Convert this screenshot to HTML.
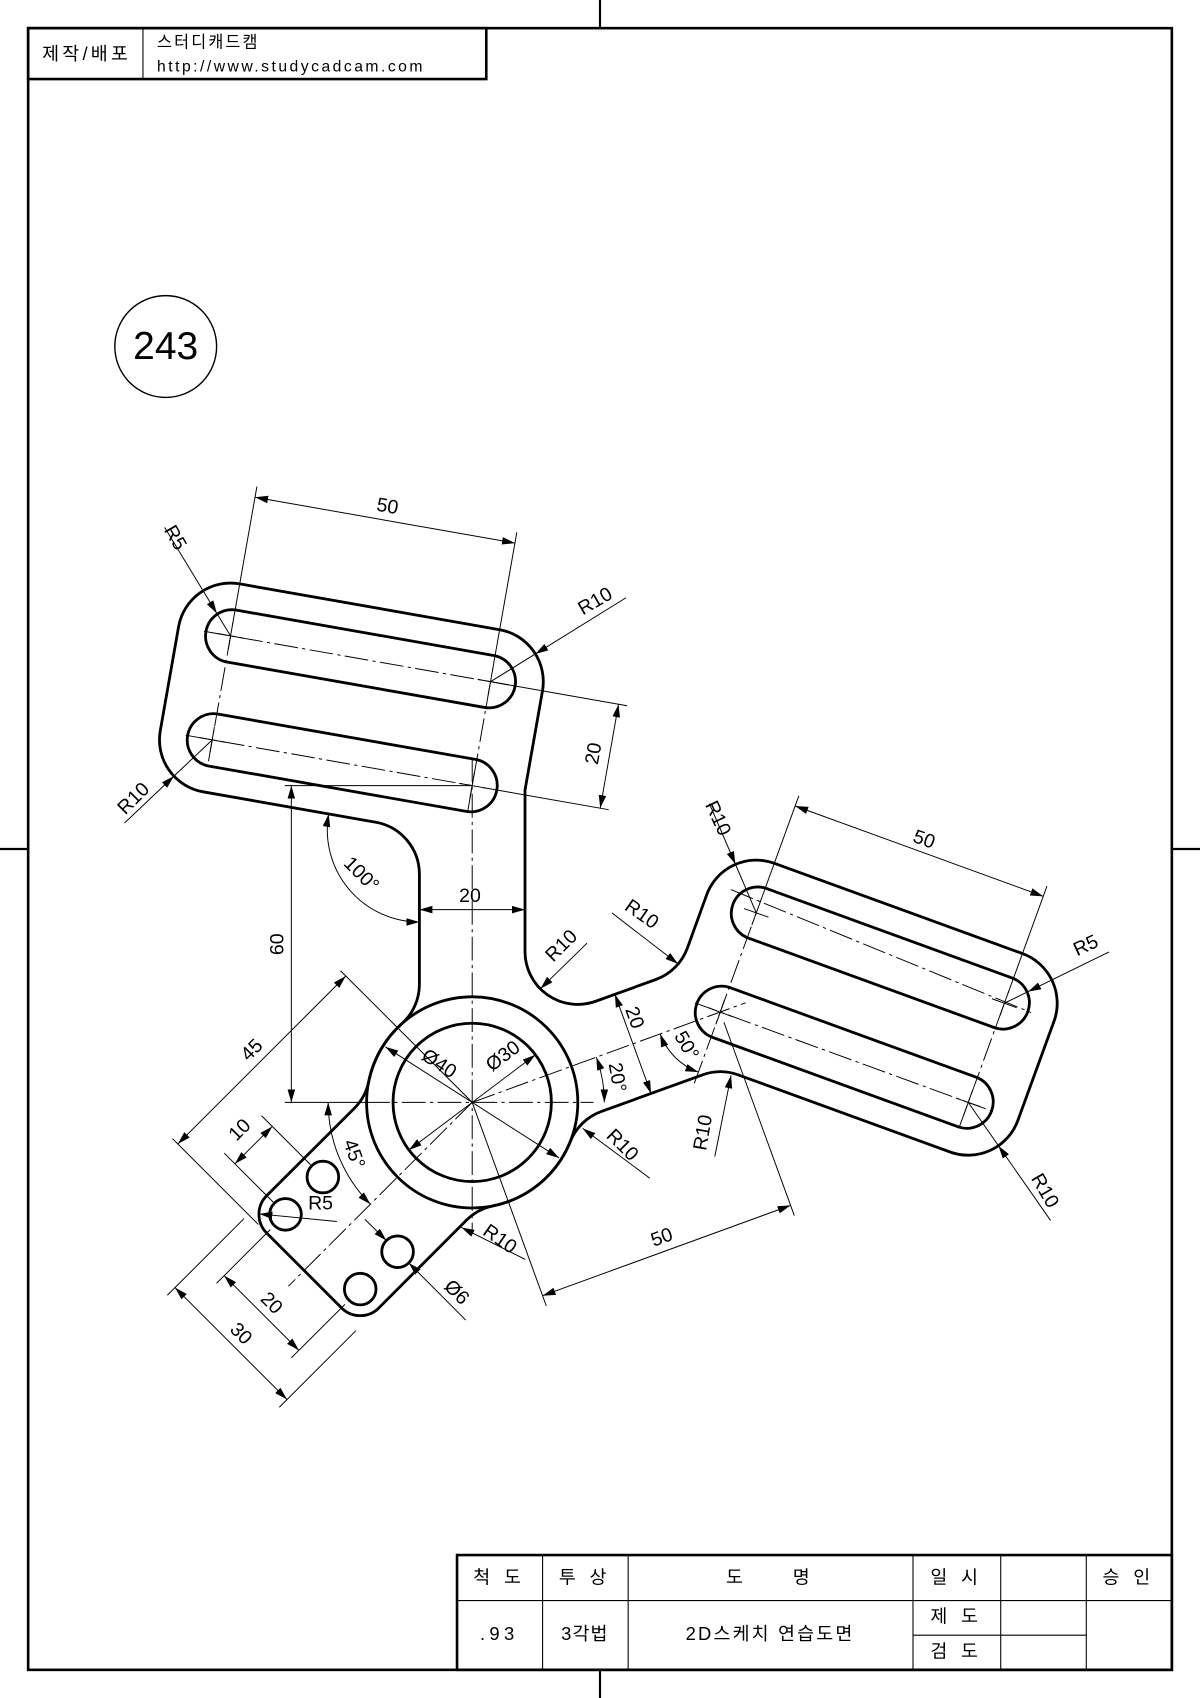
<!DOCTYPE html>
<html><head><meta charset="utf-8">
<style>
html,body{margin:0;padding:0;background:#fff;}
svg{display:block;}
.o{fill:none;stroke:#000;stroke-width:2.6;stroke-linejoin:round;}
.t{fill:none;stroke:#000;stroke-width:0.9;}
.c{fill:none;stroke:#000;stroke-width:0.9;stroke-dasharray:22 4 3 4;}
.d{fill:none;stroke:#000;stroke-width:0.9;marker-start:url(#a);marker-end:url(#a);}
.l{fill:none;stroke:#000;stroke-width:0.9;marker-end:url(#a);}
text{font-family:"Liberation Sans","Noto Sans CJK KR",sans-serif;fill:#000;}
.dt{font-size:18px;text-anchor:middle;dominant-baseline:middle;}
.tb{font-size:17px;text-anchor:middle;dominant-baseline:middle;letter-spacing:4px;}
</style></head><body>
<svg width="1200" height="1698" viewBox="0 0 1108 1568" preserveAspectRatio="none" xmlns="http://www.w3.org/2000/svg">
<defs>
<marker id="a" viewBox="0 0 12 7" refX="12" refY="3.5" markerWidth="12" markerHeight="7" markerUnits="userSpaceOnUse" orient="auto-start-reverse">
<path d="M0,0 L12,3.5 L0,7 z" fill="#000"/></marker>
</defs>
<rect width="1108" height="1568" fill="#fff"/>
<rect x="26" y="26" width="1056" height="1516" fill="none" stroke="#000" stroke-width="2.4"/>
<line x1="554" y1="0" x2="554" y2="26" stroke="#000" stroke-width="2"/>
<line x1="554" y1="1542" x2="554" y2="1568" stroke="#000" stroke-width="2"/>
<line x1="0" y1="784" x2="26" y2="784" stroke="#000" stroke-width="2"/>
<line x1="1082" y1="784" x2="1108" y2="784" stroke="#000" stroke-width="2"/>
<rect x="26" y="26" width="423" height="47" fill="none" stroke="#000" stroke-width="2.4"/>
<line x1="132" y1="26" x2="132" y2="73" stroke="#000" stroke-width="1"/>
<text x="80" y="51" style="font-size:17px;text-anchor:middle;dominant-baseline:middle;letter-spacing:3px">제작/배포</text>
<text x="145" y="40" style="font-size:15px;dominant-baseline:middle;letter-spacing:2px">스터디캐드캠</text>
<text x="145" y="62" style="font-size:14.5px;dominant-baseline:middle;letter-spacing:2.3px">http://www.studycadcam.com</text>
<circle cx="153" cy="320" r="47" fill="none" stroke="#000" stroke-width="1.3"/>
<text x="153" y="322" style="font-size:36px;text-anchor:middle;dominant-baseline:middle">243</text>
<g stroke="#000" stroke-width="1" fill="none">
<rect x="422" y="1436" width="660" height="106" stroke-width="2.4"/>
<line x1="422" y1="1478" x2="1082" y2="1478"/>
<line x1="843" y1="1510" x2="1003" y2="1510"/>
<line x1="501" y1="1436" x2="501" y2="1542"/>
<line x1="580" y1="1436" x2="580" y2="1542"/>
<line x1="843" y1="1436" x2="843" y2="1542"/>
<line x1="924" y1="1436" x2="924" y2="1542"/>
<line x1="1003" y1="1436" x2="1003" y2="1542"/>
</g>
<text class="tb" x="461" y="1458">척 도</text>
<text class="tb" x="540" y="1458">투 상</text>
<text class="tb" x="711" y="1458">도　　명</text>
<text class="tb" x="883" y="1458">일 시</text>
<text class="tb" x="1042" y="1458">승 인</text>
<text class="tb" x="461" y="1510">.93</text>
<text class="tb" x="540" y="1510" style="letter-spacing:1px">3각법</text>
<text class="tb" x="711" y="1510" style="letter-spacing:2px">2D스케치 연습도면</text>
<text class="tb" x="883" y="1494">제 도</text>
<text class="tb" x="883" y="1526">검 도</text>

<path class="o" d="M387.25,909 L387.25,807.3 A48.75,48.75 0 0 0 347,759.3 L187.5,731.2 A48.75,48.75 0 0 1 148,674.7 L164.9,578.7 A48.75,48.75 0 0 1 221.4,539.2 L461.4,581.5 A48.75,48.75 0 0 1 500.9,638 L484.75,729.6 L484.75,878.8 A48.75,48.75 0 0 0 550.1,924.6 L605.6,904.5 A48.75,48.75 0 0 0 634.7,875.4 L652.5,826.3 A48.75,48.75 0 0 1 715,797.2 L944.1,880.6 A48.75,48.75 0 0 1 973.2,943.1 L939.8,1034.7 A48.75,48.75 0 0 1 877.3,1063.8 L681.7,992.6 A48.75,48.75 0 0 0 648.5,992.6 L555,1026.5 A48.75,48.75 0 0 0 526.5,1054.2 A97.5,97.5 0 0 1 455.4,1113.5 A48.75,48.75 0 0 0 430.6,1126.8 L349.9,1207.7 A24.4,24.4 0 0 1 315.3,1207.7 L246.3,1138.7 A24.4,24.4 0 0 1 246.3,1104.1 L327.2,1023.4 A48.75,48.75 0 0 0 340.5,998.6 A97.5,97.5 0 0 1 371,945.3 A48.75,48.75 0 0 0 387.25,909 Z"/>
<circle class="o" cx="436" cy="1018" r="97.5"/>
<circle class="o" cx="436" cy="1018" r="73.1"/>
<path class="o" d="M217.1,563.2 L457.1,605.5 A24.4,24.4 0 0 1 448.7,653.5 L208.7,611.2 A24.4,24.4 0 0 1 217.1,563.2 Z"/>
<path class="o" d="M200.2,659.2 L440.2,701.5 A24.4,24.4 0 0 1 431.8,749.5 L191.8,707.2 A24.4,24.4 0 0 1 200.2,659.2 Z"/>
<path class="o" d="M706.6,820.1 L935.7,903.5 A24.4,24.4 0 0 1 919.1,949.3 L690,865.9 A24.4,24.4 0 0 1 706.6,820.1 Z"/>
<path class="o" d="M673.3,911.7 L902.3,995.1 A24.4,24.4 0 0 1 885.7,1040.9 L656.7,957.5 A24.4,24.4 0 0 1 673.3,911.7 Z"/>
<circle class="o" cx="298.1" cy="1086.9" r="14.6"/>
<circle class="o" cx="367.1" cy="1155.9" r="14.6"/>
<circle class="o" cx="263.6" cy="1121.4" r="14.6"/>
<circle class="o" cx="332.6" cy="1190.4" r="14.6"/>

<line class="c" x1="188.3" y1="582.9" x2="477.5" y2="633.8"/>
<line class="c" x1="171.4" y1="678.9" x2="436" y2="725.5"/>
<line class="c" x1="192.5" y1="702.9" x2="212.9" y2="587.2"/>
<line class="c" x1="431.7" y1="750.1" x2="452.9" y2="629.5"/>
<line class="c" x1="436" y1="700" x2="436" y2="1138"/>
<line class="c" x1="338" y1="1018" x2="548" y2="1018"/>
<line class="c" x1="674.8" y1="821.5" x2="952" y2="935"/>
<line class="c" x1="641.5" y1="926" x2="917.5" y2="1026.6"/>
<line class="c" x1="641.1" y1="1000.4" x2="698.3" y2="843"/>
<line class="c" x1="885.5" y1="1041.5" x2="927.4" y2="926.4"/>
<line class="c" x1="436" y1="1018" x2="688.5" y2="926"/>
<line class="c" x1="436" y1="1018" x2="266.3" y2="1187.7"/>
<g class="t">
<path d="M201,585 L225,589.4 M215,575 L210.8,599.4"/>
<path d="M184,681 L208,685.4 M198,671 L193.8,695.4"/>
<path d="M441,627.4 L465,631.6 M455,617.6 L450.8,641.4"/>
<path d="M424,723.4 L448,727.6 M438,713.6 L433.8,737.4"/>
<path d="M687,839 L709.6,847 M702.4,831.7 L694.2,854.3"/>
<path d="M654,930.5 L676,938.7 M669,923.3 L661,945.9"/>
<path d="M916,922.3 L938.6,930.5 M931.5,915 L923.3,937.8"/>
<path d="M882.7,1014 L905.3,1022 M898,1006.7 L890,1029.3"/>
</g>

<g class="t">
<line x1="214.6" y1="577.4" x2="237.2" y2="449.3"/>
<line x1="454.6" y1="619.7" x2="477.2" y2="491.6"/>
<line x1="463" y1="631.3" x2="579" y2="651.7"/>
<line x1="446" y1="727.3" x2="562" y2="747.7"/>
<line x1="263" y1="725.5" x2="436" y2="725.5"/>
<line x1="263" y1="1018" x2="338" y2="1018"/>
<line x1="701.7" y1="833.6" x2="737.6" y2="734.9"/>
<line x1="930.8" y1="917" x2="966.7" y2="818.3"/>
<line x1="436" y1="1018" x2="504.4" y2="1205.9"/>
<line x1="668.4" y1="944" x2="733.4" y2="1122.5"/>
<line x1="436" y1="1018" x2="314.4" y2="896.4"/>
<line x1="238.5" y1="1130.7" x2="159.3" y2="1051.5"/>
<line x1="286.8" y1="1075.6" x2="241.5" y2="1030.3"/>
<line x1="252.3" y1="1110.1" x2="207" y2="1064.8"/>
<line x1="249.5" y1="1135.5" x2="200" y2="1185"/>
<line x1="318.5" y1="1204.5" x2="268.9" y2="1254"/>
<line x1="225.2" y1="1125.4" x2="154.5" y2="1196.1"/>
<line x1="328.6" y1="1228.8" x2="257.9" y2="1299.5"/>
</g>

<line class="d" x1="235.5" y1="459.2" x2="475.5" y2="501.5"/>
<text class="dt" transform="translate(357.6,468.5) rotate(10)">50</text>
<line class="d" x1="571.1" y1="650.3" x2="554.2" y2="746.3"/>
<text class="dt" transform="translate(549,696) rotate(-80)">20</text>
<line class="d" x1="269" y1="725.5" x2="269" y2="1018"/>
<text class="dt" transform="translate(257,872) rotate(-90)">60</text>
<line class="d" x1="387.25" y1="840" x2="484.75" y2="840"/>
<text class="dt" x="434" y="828">20</text>
<path class="d" d="M303.5,751.6 A85,85 0 0 0 387.25,851.4"/>
<text class="dt" transform="translate(333,808) rotate(45)">100°</text>
<line class="d" x1="734.2" y1="744.3" x2="963.3" y2="827.7"/>
<text class="dt" transform="translate(852.9,776) rotate(20)">50</text>
<line class="d" x1="501" y1="1196.5" x2="730" y2="1113.1"/>
<text class="dt" transform="translate(611.4,1143.5) rotate(-20)">50</text>
<path class="d" d="M558,1018 A122,122 0 0 0 550.6,976.3"/>
<text class="dt" transform="translate(569,995) rotate(80)">20°</text>
<line class="d" x1="567.8" y1="918.2" x2="601.1" y2="1009.8"/>
<text class="dt" transform="translate(585,940) rotate(70)">20</text>
<path class="d" d="M609.6,954.8 A59,59 0 0 0 644.8,990"/>
<text class="dt" transform="translate(633,966) rotate(60)">50°</text>
<line class="d" x1="319.3" y1="901.3" x2="164.2" y2="1056.4"/>
<text class="dt" transform="translate(233.2,970.3) rotate(-45)">45</text>
<line class="d" x1="251.4" y1="1040.2" x2="216.9" y2="1074.7"/>
<text class="dt" transform="translate(222,1044) rotate(-45)">10</text>
<line class="d" x1="207" y1="1178" x2="276" y2="1247"/>
<text class="dt" transform="translate(250,1204) rotate(45)">20</text>
<line class="d" x1="161.6" y1="1189" x2="265" y2="1292.4"/>
<text class="dt" transform="translate(221.8,1232.2) rotate(45)">30</text>
<path class="d" d="M303,1018 A133,133 0 0 0 342,1112"/>
<text class="dt" transform="translate(326,1066) rotate(70)">45°</text>
<line class="d" x1="355.8" y1="966.7" x2="516.2" y2="1069.3"/>
<text class="dt" transform="translate(405,983) rotate(33)">Ø40</text>
<line class="d" x1="377.6" y1="1062" x2="494.4" y2="974"/>
<text class="dt" transform="translate(465,976) rotate(-37)">Ø30</text>

<line class="l" x1="152" y1="487" x2="200.2" y2="566.4"/>
<line class="t" x1="200.2" y1="566.4" x2="212.9" y2="587.2"/>
<text class="dt" transform="translate(161,497) rotate(60)">R5</text>
<line class="l" x1="115" y1="760" x2="160.6" y2="716.7"/>
<line class="t" x1="160.6" y1="716.7" x2="196" y2="683.2"/>
<text class="dt" transform="translate(124,738) rotate(-45)">R10</text>
<line class="l" x1="578" y1="552" x2="494.3" y2="603.9"/>
<line class="t" x1="494.3" y1="603.9" x2="452.9" y2="629.5"/>
<text class="dt" transform="translate(550,556) rotate(-30)">R10</text>
<line class="l" x1="542" y1="871" x2="499" y2="913"/>
<text class="dt" transform="translate(519,874) rotate(-45)">R10</text>
<line class="l" x1="565" y1="843" x2="626.1" y2="890.1"/>
<text class="dt" transform="translate(592,845) rotate(35)">R10</text>
<line class="l" x1="655" y1="742" x2="679.1" y2="798.2"/>
<line class="t" x1="679.1" y1="798.2" x2="698.3" y2="843"/>
<text class="dt" transform="translate(662,756) rotate(65)">R10</text>
<line class="l" x1="1024" y1="879" x2="949.3" y2="915.7"/>
<line class="t" x1="949.3" y1="915.7" x2="927.4" y2="926.4"/>
<text class="dt" transform="translate(1003,874) rotate(-25)">R5</text>
<line class="l" x1="970" y1="1127" x2="921.9" y2="1058"/>
<line class="t" x1="921.9" y1="1058" x2="894" y2="1018"/>
<text class="dt" transform="translate(964,1100) rotate(60)">R10</text>
<line class="l" x1="660" y1="1068" x2="675" y2="993"/>
<text class="dt" transform="translate(650,1046) rotate(-80)">R10</text>
<line class="l" x1="600" y1="1088" x2="538" y2="1042"/>
<text class="dt" transform="translate(574,1058) rotate(45)">R10</text>
<line class="l" x1="485" y1="1163" x2="426" y2="1133.5"/>
<text class="dt" transform="translate(461,1145) rotate(35)">R10</text>
<line class="l" x1="311" y1="1128" x2="239.5" y2="1121"/>
<text class="dt" x="296" y="1112">R5</text>
<line class="l" x1="337" y1="1126" x2="356.8" y2="1145.6"/>
<line class="l" x1="430" y1="1219" x2="377.4" y2="1166.2"/>
<text class="dt" transform="translate(421,1194) rotate(45)">Ø6</text>
</svg>
</body></html>
